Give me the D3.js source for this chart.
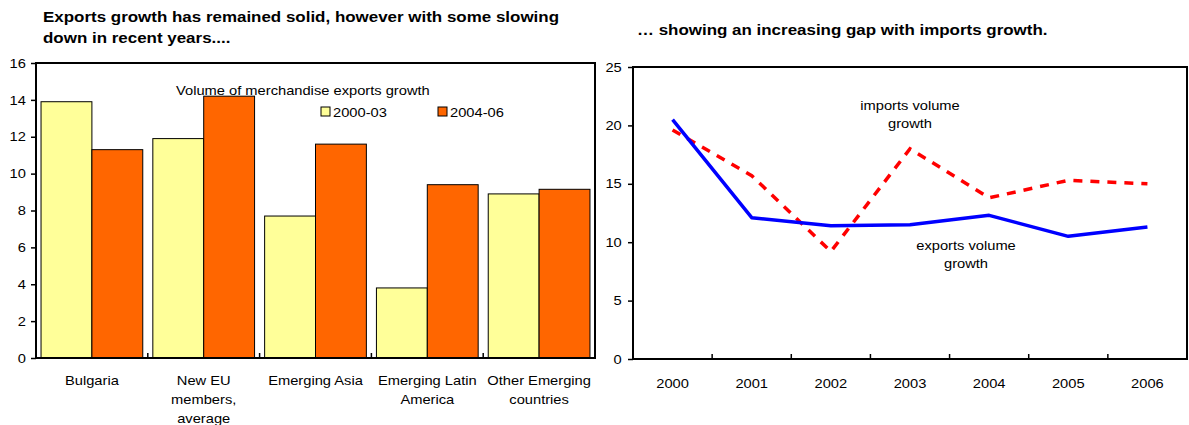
<!DOCTYPE html>
<html>
<head>
<meta charset="utf-8">
<script src="https://cdn.jsdelivr.net/npm/d3@7"></script>
<style>
  html, body { margin: 0; padding: 0; background: #fff; }
  svg { display: block; font-family: "Liberation Sans", Arial, sans-serif; }
</style>
</head>
<body>
<svg id="chart" width="1189" height="425"></svg>
<script>
// Left panel: merchandise export volume growth by region
const regions = ["Bulgaria", "New EU members, average", "Emerging Asia", "Emerging Latin America", "Other Emerging countries"];
const regionLabelLines = [["Bulgaria"], ["New EU", "members,", "average"], ["Emerging Asia"], ["Emerging Latin", "America"], ["Other Emerging", "countries"]];
const periods = ["2000-03", "2004-06"];
const growth2000_03 = [13.9, 11.9, 7.7, 3.8, 8.9];
const growth2004_06 = [11.3, 14.2, 11.6, 9.4, 9.15];
const barTicks = [0, 2, 4, 6, 8, 10, 12, 14, 16];

// Right panel: Bulgaria export vs import volume growth
const years = ["2000", "2001", "2002", "2003", "2004", "2005", "2006"];
const exportsGrowth = [20.5, 12.1, 11.4, 11.5, 12.3, 10.5, 11.3];
const importsGrowth = [19.6, 15.7, 9.2, 18.0, 13.8, 15.3, 15.0];
const lineTicks = [0, 5, 10, 15, 20, 25];

const svg = d3.select("#chart");
const colors = { "2000-03": "#FFFF99", "2004-06": "#FF6600" };
const STRETCH = 1.13; // slightly wide lettering

// Place a (possibly multi-line) label with horizontally widened glyphs
function addText(x, y, lines, opts = {}) {
  const t = svg.append("text")
    .attr("transform", `translate(${x},${y}) scale(${opts.stretch || STRETCH},1)`)
    .attr("text-anchor", opts.anchor || "start")
    .attr("font-size", opts.size || 13)
    .attr("font-weight", opts.weight || "normal")
    .attr("fill", "#000");
  [].concat(lines).forEach((l, k) => {
    t.append("tspan").attr("x", 0).attr("dy", k === 0 ? 0 : (opts.lineHeight || 19)).text(l);
  });
  return t;
}

function styleAxis(g) {
  g.select(".domain").remove();
  g.selectAll("line").attr("stroke", "#000").attr("stroke-width", 1.5);
  g.selectAll("text").attr("font-size", 13).attr("fill", "#000")
    .attr("font-family", "Liberation Sans, Arial, sans-serif")
    .attr("transform", `scale(${STRETCH},1)`);
}

// ---------- Left panel ----------
const L = { left: 36, right: 595, top: 63, bottom: 358 };
const xL = d3.scaleBand().domain(regions).range([L.left, L.right]).paddingInner(0.09).paddingOuter(0.045);
const xSub = d3.scaleBand().domain(periods).range([0, xL.bandwidth()]);
const yL = d3.scaleLinear().domain([0, 16]).range([L.bottom, L.top]);
const xBoundary = d3.scaleBand().domain(regions).range([L.left, L.right]);

addText(43, 22, "Exports growth has remained solid, however with some slowing", { size: 15, weight: "bold" });
addText(43, 43, "down in recent years....", { size: 15, weight: "bold" });

const gBars = svg.append("g");
regions.forEach((r, i) => {
  const vals = [growth2000_03[i], growth2004_06[i]];
  periods.forEach((p, j) => {
    gBars.append("rect")
      .attr("x", xL(r) + xSub(p))
      .attr("y", yL(vals[j]))
      .attr("width", xSub.bandwidth())
      .attr("height", yL(0) - yL(vals[j]))
      .attr("fill", colors[p])
      .attr("stroke", "#000").attr("stroke-width", 1);
  });
});

// plot frame
svg.append("rect").attr("x", L.left).attr("y", L.top).attr("width", L.right - L.left).attr("height", L.bottom - L.top)
  .attr("fill", "none").attr("stroke", "#000").attr("stroke-width", 2);

const yAxisL = d3.axisLeft(yL).tickValues(barTicks).tickSize(5).tickPadding(4).tickFormat(d3.format("d"));
svg.append("g").attr("transform", `translate(${L.left},0)`).call(yAxisL).call(styleAxis);

// category boundary ticks
svg.append("g").selectAll("line").data(regions.slice(1)).join("line")
  .attr("x1", d => xBoundary(d)).attr("x2", d => xBoundary(d))
  .attr("y1", L.bottom).attr("y2", L.bottom - 5)
  .attr("stroke", "#000").attr("stroke-width", 1.5);

// category labels
regions.forEach((r, i) => {
  addText(xBoundary(r) + xBoundary.bandwidth() / 2, 385, regionLabelLines[i], { anchor: "middle" });
});

// legend
addText(176, 95, "Volume of merchandise exports growth");
const legendX = [321, 438];
periods.forEach((p, j) => {
  svg.append("rect").attr("x", legendX[j]).attr("y", 107).attr("width", 9).attr("height", 9)
    .attr("fill", colors[p]).attr("stroke", "#000").attr("stroke-width", 1);
  addText(legendX[j] + 12, 116.5, p);
});

// ---------- Right panel ----------
const R = { left: 633, right: 1187, top: 67, bottom: 359 };
const xR = d3.scaleBand().domain(years).range([R.left, R.right]);
const yR = d3.scaleLinear().domain([0, 25]).range([R.bottom, R.top]);

addText(637, 35, "… showing an increasing gap with imports growth.", { size: 15, weight: "bold" });

svg.append("rect").attr("x", R.left).attr("y", R.top).attr("width", R.right - R.left).attr("height", R.bottom - R.top)
  .attr("fill", "none").attr("stroke", "#000").attr("stroke-width", 2);

const yAxisR = d3.axisLeft(yR).tickValues(lineTicks).tickSize(5).tickPadding(5).tickFormat(d3.format("d"));
svg.append("g").attr("transform", `translate(${R.left},0)`).call(yAxisR).call(styleAxis);

svg.append("g").selectAll("line").data(years.slice(1)).join("line")
  .attr("x1", d => xR(d)).attr("x2", d => xR(d))
  .attr("y1", R.bottom).attr("y2", R.bottom - 5)
  .attr("stroke", "#000").attr("stroke-width", 1.5);

years.forEach(y => addText(xR(y) + xR.bandwidth() / 2, 388, y, { anchor: "middle" }));

const line = d3.line().x((d, i) => xR(years[i]) + xR.bandwidth() / 2).y(d => yR(d));

svg.append("path").datum(importsGrowth).attr("d", line)
  .attr("fill", "none").attr("stroke", "#FF0000").attr("stroke-width", 3.5)
  .attr("stroke-dasharray", "9,8");
svg.append("path").datum(exportsGrowth).attr("d", line)
  .attr("fill", "none").attr("stroke", "#0000FF").attr("stroke-width", 3.5).attr("stroke-linejoin", "round");

addText(910, 110, ["imports volume", "growth"], { anchor: "middle", lineHeight: 18 });
addText(966, 250, ["exports volume", "growth"], { anchor: "middle", lineHeight: 18 });
</script>
</body>
</html>
